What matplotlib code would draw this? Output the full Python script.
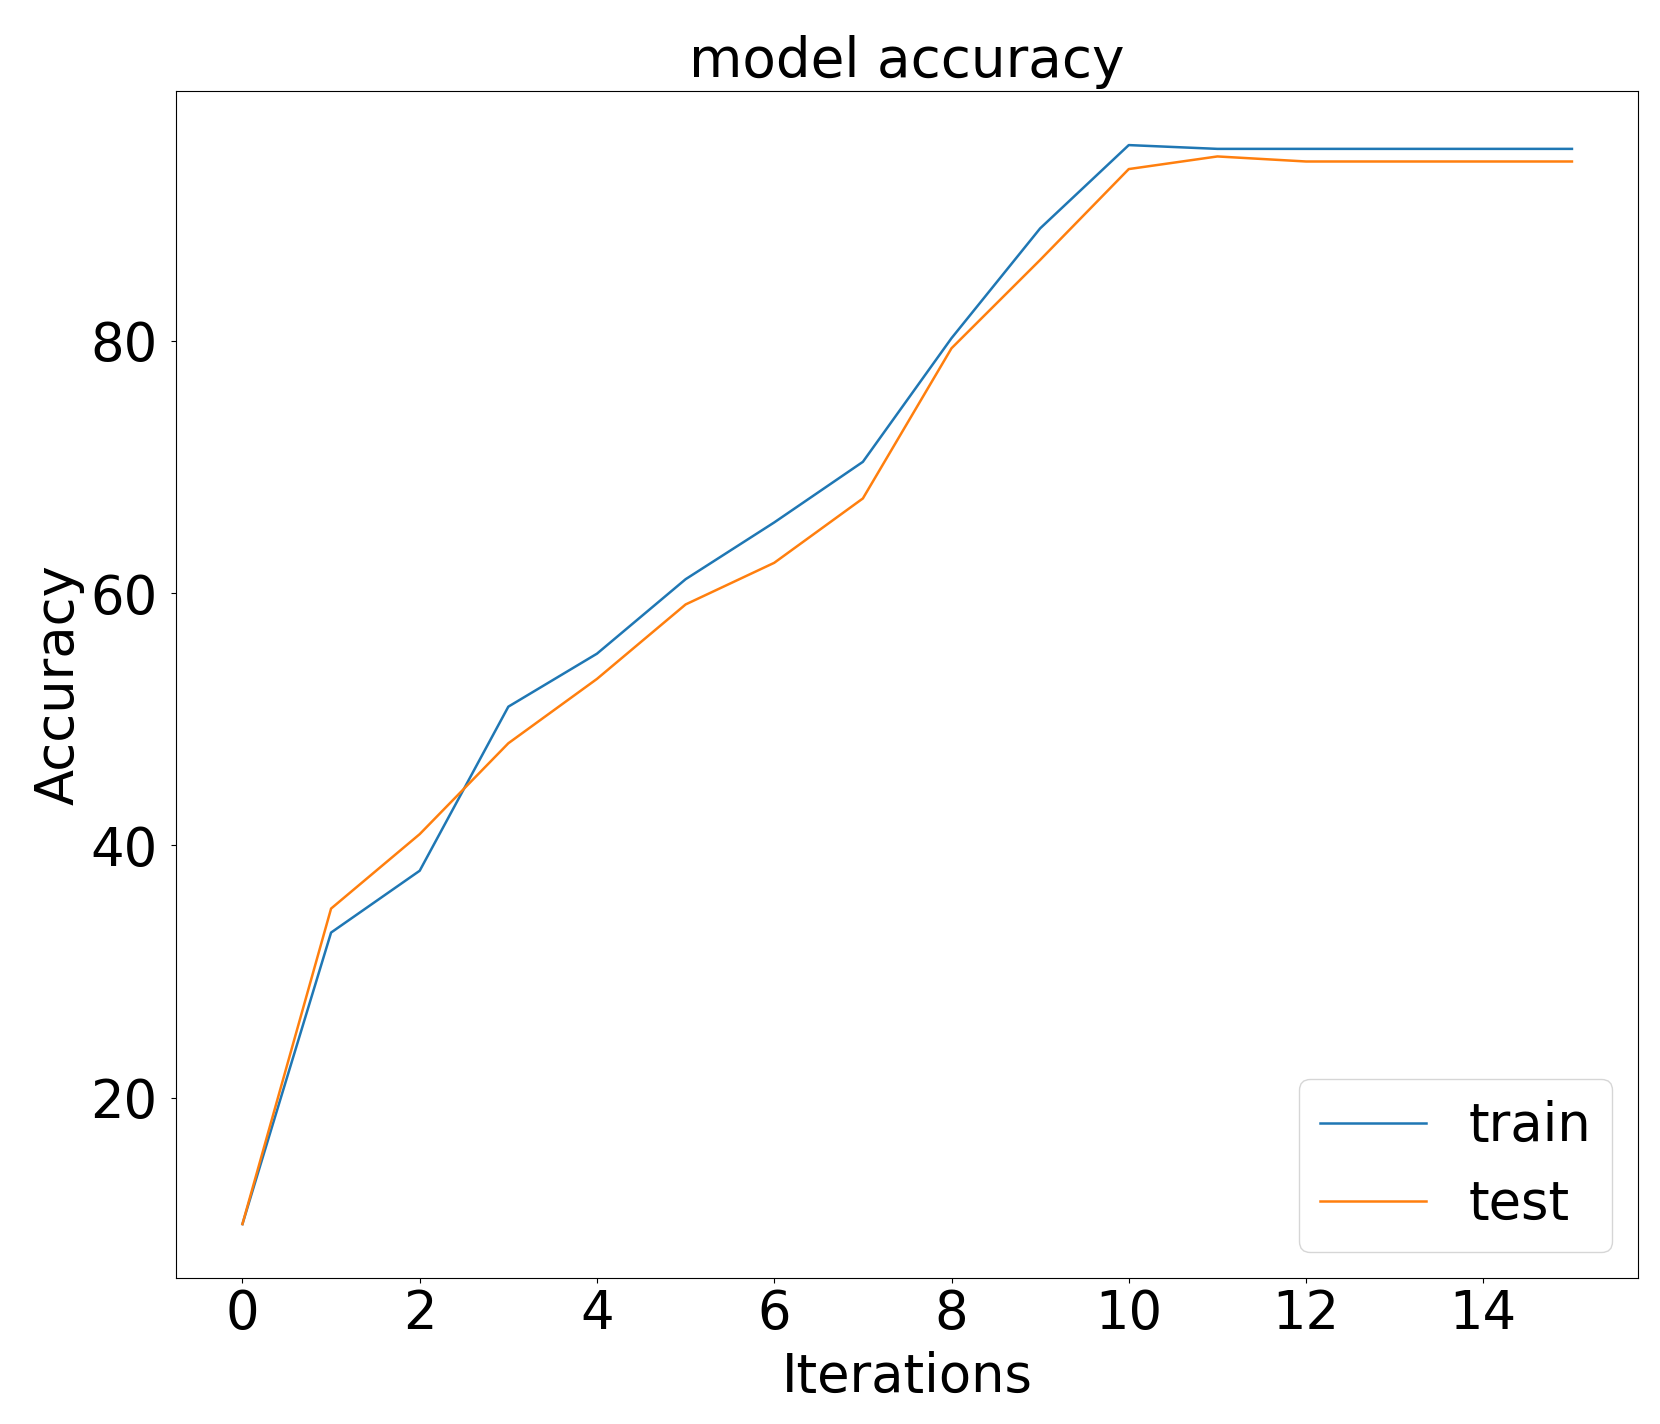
import matplotlib
matplotlib.use("Agg")
import matplotlib.pyplot as plt

# --- data ---
iterations = list(range(16))
train_acc = [10.0, 33.1, 38.0, 51.0, 55.2, 61.1, 65.6, 70.4, 80.2, 88.9,
             95.5, 95.2, 95.2, 95.2, 95.2, 95.2]
test_acc = [10.0, 35.0, 40.9, 48.1, 53.2, 59.1, 62.4, 67.5, 79.4, 86.4,
            93.6, 94.6, 94.2, 94.2, 94.2, 94.2]

fs = 38

fig = plt.figure(figsize=(16.6, 14.24), dpi=100)
ax = fig.add_axes([0.106, 0.1025, 0.881, 0.8335])

ax.plot(iterations, train_acc, label="train", linewidth=1.8)
ax.plot(iterations, test_acc, label="test", linewidth=1.8)

ax.set_title("model accuracy", fontsize=39.5, pad=10)
ax.set_xlabel("Iterations", fontsize=fs, labelpad=8)
ax.set_ylabel("Accuracy", fontsize=fs)
ax.tick_params(labelsize=fs)
ax.tick_params(axis="y", pad=10)
ax.set_yticks([20, 40, 60, 80])
ax.legend(loc="lower right", fontsize=fs)

plt.savefig("out.png", dpi=100)
